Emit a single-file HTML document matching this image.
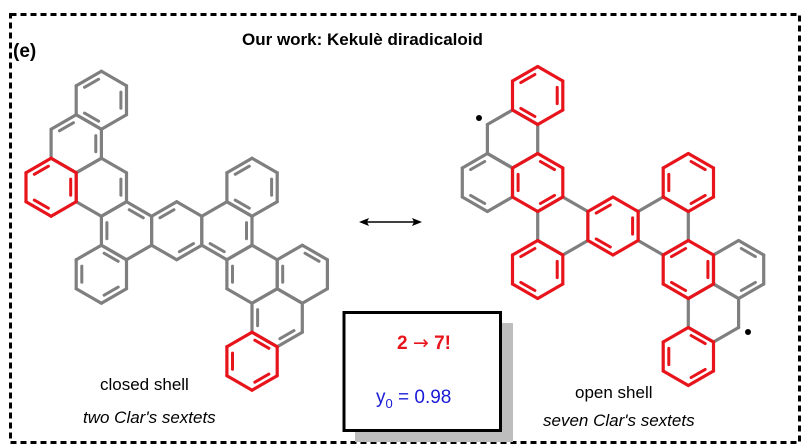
<!DOCTYPE html>
<html><head><meta charset="utf-8"><style>
html,body{margin:0;padding:0;background:#fff;}
body{width:802px;height:447px;overflow:hidden;position:relative;font-family:"Liberation Sans",Arial,sans-serif;}
</style></head><body>
<svg id="s" width="802" height="447" viewBox="0 0 802 447" xmlns="http://www.w3.org/2000/svg" style="position:absolute;left:0;top:0">
<rect x="10.5" y="14.5" width="789" height="428" fill="none" stroke="#000" stroke-width="3" stroke-dasharray="6,4"/>
<text x="13" y="57" font-family="Liberation Sans, sans-serif" font-weight="bold" font-size="19">(e)</text>
<text x="242" y="45" font-family="Liberation Sans, sans-serif" font-weight="bold" font-size="17">Our work: Kekulè diradicaloid</text>
<line x1="364" y1="222" x2="417" y2="222" stroke="#000" stroke-width="1.5"/>
<polygon points="359,222 369,218 367,222 369,226" fill="#000"/>
<polygon points="422,222 412,218 414,222 412,226" fill="#000"/>
<rect x="355" y="323" width="158" height="119" fill="#bdbdbd"/>
<rect x="344" y="312.5" width="156.5" height="118" fill="#fff" stroke="#000" stroke-width="3"/>
<text x="424" y="349" text-anchor="middle" font-family="Liberation Sans, DejaVu Sans, sans-serif" font-weight="bold" font-size="19" fill="#e8141b">2 <tspan font-family="DejaVu Sans, sans-serif" font-weight="normal">→</tspan> 7!</text>
<text x="376" y="403" font-family="Liberation Sans, sans-serif" font-size="19" fill="#1a1ad8">y<tspan font-size="13" dy="5">0</tspan><tspan dy="-5"> = 0.98</tspan></text>
<text x="100" y="390" font-family="Liberation Sans, sans-serif" font-size="17">closed shell</text>
<text x="83" y="423" font-family="Liberation Sans, sans-serif" font-style="italic" font-size="17">two Clar's sextets</text>
<text x="575" y="398" font-family="Liberation Sans, sans-serif" font-size="17">open shell</text>
<text x="543" y="426" font-family="Liberation Sans, sans-serif" font-style="italic" font-size="17">seven Clar's sextets</text>
<g id="mol"></g>
<circle cx="479" cy="118" r="3" fill="#000"/>
<circle cx="748" cy="332" r="3" fill="#000"/>
</svg>
<script>
(function(){
var L=29, S3=Math.sqrt(3), g=document.getElementById('mol'), out='';
var GR='#7f7f7f', RD='#e8141b';
function ctr(c,q,r){return [c[0]+L*S3*(q+r/2), c[1]+1.5*L*r];}
function verts(p){var v=[];for(var k=0;k<6;k++){var a=(-90+60*k)*Math.PI/180;v.push([p[0]+L*Math.cos(a),p[1]+L*Math.sin(a)]);}return v;}
function line(a,b,col,w){out+='<line x1="'+a[0].toFixed(1)+'" y1="'+a[1].toFixed(1)+'" x2="'+b[0].toFixed(1)+'" y2="'+b[1].toFixed(1)+'" stroke="'+col+'" stroke-width="'+w+'" stroke-linecap="round"/>';}
function ring(c,q,r,col,dbl){
  var p=ctr(c,q,r), v=verts(p);
  for(var k=0;k<6;k++) line(v[k],v[(k+1)%6],col,3.2);
  (dbl||[]).forEach(function(k){
    var a=v[k], b=v[(k+1)%6], f=0.78, t=0.14;
    var a2=[p[0]+(a[0]-p[0])*f,p[1]+(a[1]-p[1])*f], b2=[p[0]+(b[0]-p[0])*f,p[1]+(b[1]-p[1])*f];
    var A=[a2[0]+(b2[0]-a2[0])*t,a2[1]+(b2[1]-a2[1])*t], B=[b2[0]+(a2[0]-b2[0])*t,b2[1]+(a2[1]-b2[1])*t];
    line(A,B,col,3);
  });
}
var C1=[176.7,230.7];
var left=[
 [-1,0,[0,4]],[0,0,[5,2]],[1,0,[3,1]],
 [-2,1,[0,2,4]],[-1,-1,[1]],[-1,-2,[5,1]],[0,-3,[1,3,5]],
 [2,-1,[3,5,1]],[1,1,[4]],[1,2,[2,4]],[2,1,[4,0]],
];
left.forEach(function(a){ring(C1,a[0],a[1],GR,a[2]);});
ring(C1,-2,-1,RD,[5,1,3]);
ring(C1,0,3,RD,[2,4,0]);
var C2=[613,226];
ring(C2,1,0,GR,[]);ring(C2,-1,0,GR,[]);
ring(C2,1,2,GR,[]);ring(C2,-1,-2,GR,[]);
ring(C2,2,1,GR,[0,2]);ring(C2,-2,-1,GR,[3,5]);
[[0,0,[1,3,5]],[2,-1,[0,2,4]],[1,1,[1,3,5]],[0,3,[0,2,4]],[-2,1,[1,3,5]],[-1,-1,[0,2,4]],[0,-3,[1,3,5]]].forEach(function(a){ring(C2,a[0],a[1],RD,a[2]);});
g.innerHTML=out;
})();
</script>
</body></html>
